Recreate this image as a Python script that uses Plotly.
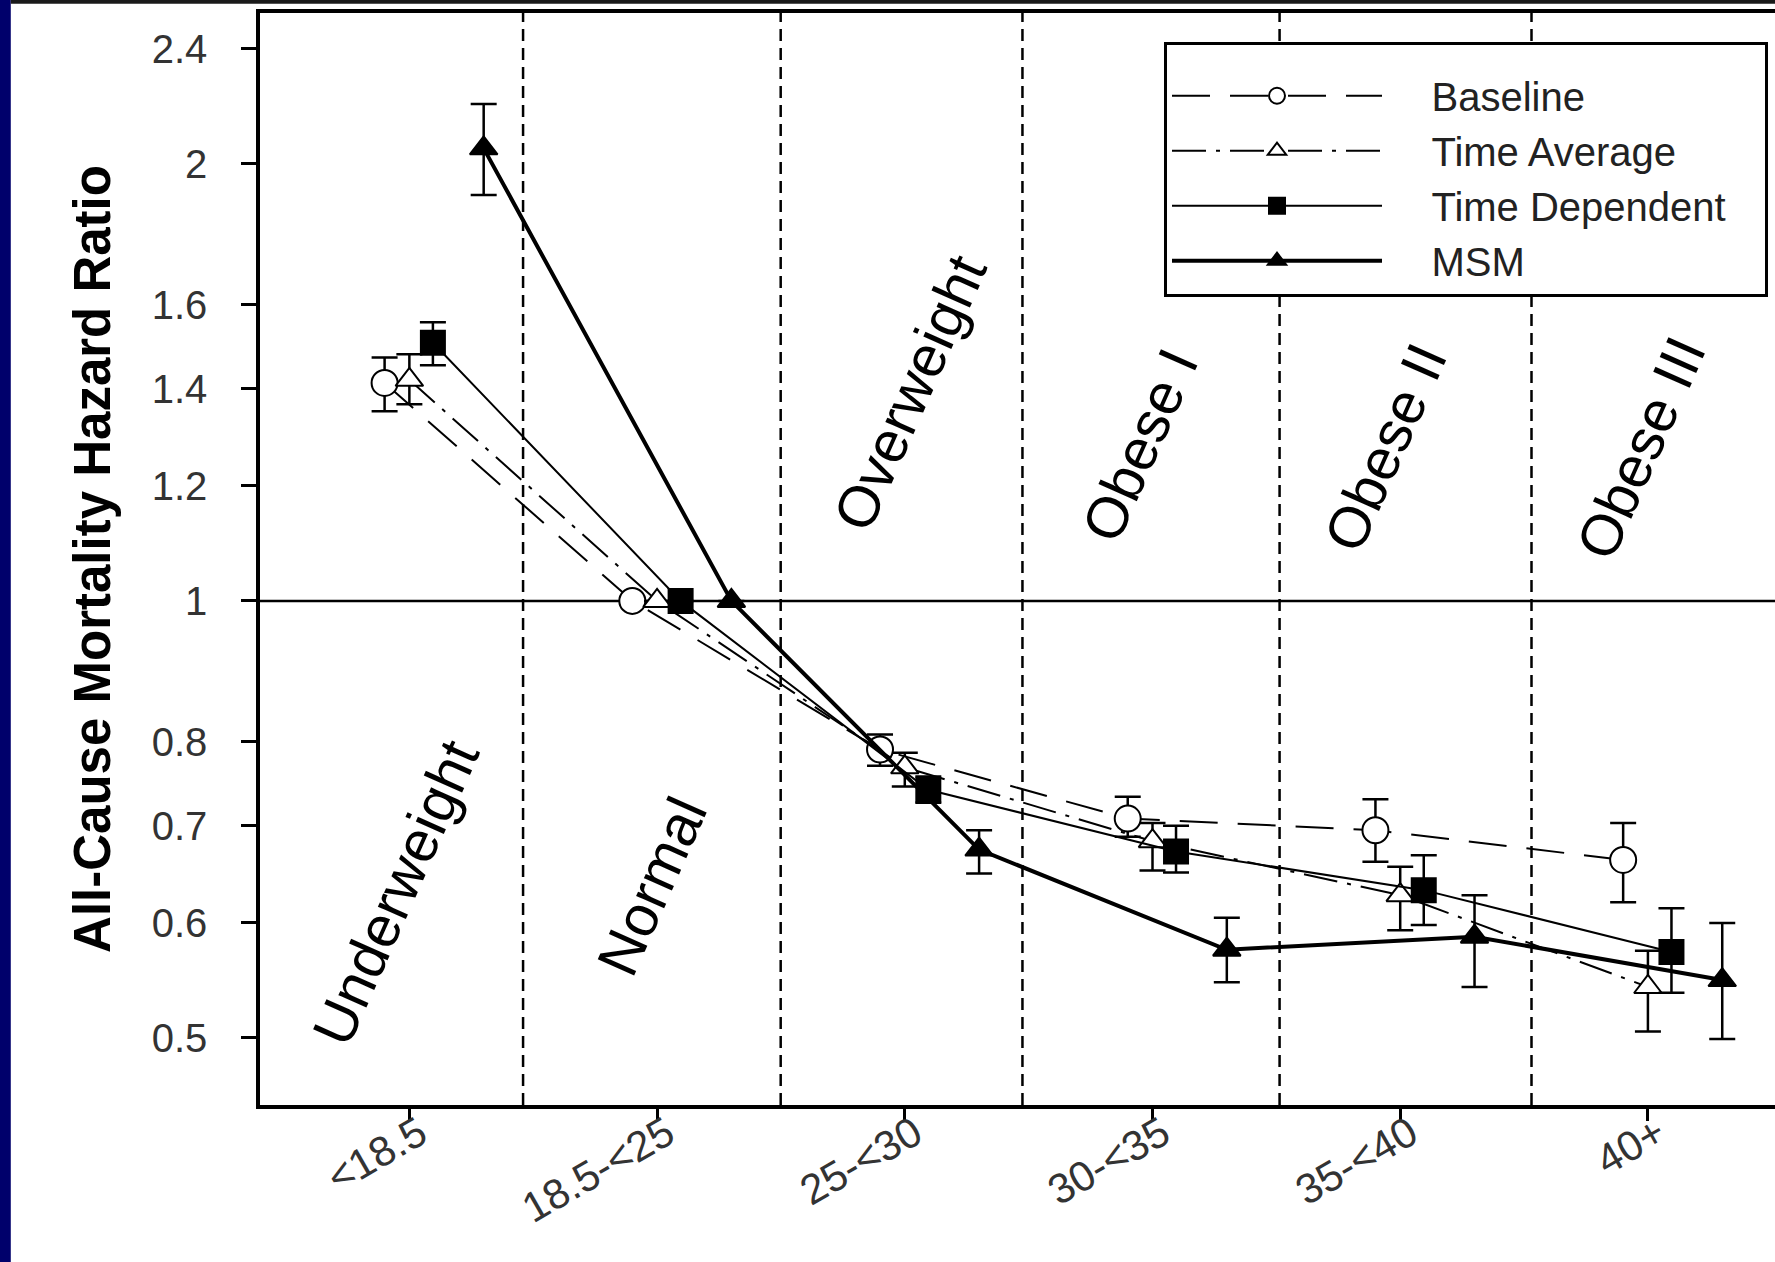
import math
import plotly.graph_objects as go

# ---------------- data ----------------
categories = ["<18.5", "18.5-<25", "25-<30", "30-<35", "35-<40", "40+"]

baseline_hr = [1.413, 1.00, 0.790, 0.708, 0.695, 0.663]
baseline_lo = [1.351, None, 0.770, 0.688, 0.661, 0.620]
baseline_hi = [1.471, None, 0.809, 0.733, 0.730, 0.703]

timeavg_hr = [1.420, 1.00, 0.768, 0.683, 0.627, 0.542]
timeavg_lo = [1.366, None, 0.745, 0.652, 0.593, 0.505]
timeavg_hi = [1.479, None, 0.786, 0.703, 0.656, 0.574]

timedep_hr = [1.506, 1.00, 0.741, 0.672, 0.632, 0.573]
timedep_lo = [1.453, None, 0.726, 0.650, 0.598, 0.537]
timedep_hi = [1.556, None, 0.757, 0.700, 0.668, 0.614]

msm_hr = [2.050, 1.00, 0.674, 0.575, 0.587, 0.548]
msm_lo = [1.904, None, 0.649, 0.546, 0.542, 0.499]
msm_hi = [2.199, None, 0.695, 0.605, 0.627, 0.600]

y_ticks = [0.5, 0.6, 0.7, 0.8, 1, 1.2, 1.4, 1.6, 2, 2.4]
y_tick_text = ["0.5", "0.6", "0.7", "0.8", "1", "1.2", "1.4", "1.6", "2", "2.4"]

region_labels = ["Underweight", "Normal", "Overweight", "Obese I", "Obese II", "Obese III"]

# ---------------- layout / style ----------------
region_x = [-0.058, 0.976, 2.017, 2.949, 3.939, 4.971]
region_y = [0.630, 0.636, 1.39, 1.281, 1.275, 1.275]
boundaries = [0.459, 1.499, 2.475, 3.513, 4.530]

FONT = "Liberation Sans, Arial, Helvetica, sans-serif"
NB = "\u00a0"

series = [
    dict(name="Baseline", hr=baseline_hr, lo=baseline_lo, hi=baseline_hi, offset=-0.10,
         symbol="circle", fill="white", dash="38px,20px", width=2, size=26),
    dict(name="Time Average", hr=timeavg_hr, lo=timeavg_lo, hi=timeavg_hi, offset=0.0,
         symbol="triangle-up", fill="white", dash="34px,10px,4px,10px", width=2, size=24),
    dict(name="Time Dependent", hr=timedep_hr, lo=timedep_lo, hi=timedep_hi, offset=0.095,
         symbol="square", fill="black", dash="solid", width=2, size=24),
    dict(name="MSM", hr=msm_hr, lo=msm_lo, hi=msm_hi, offset=0.30,
         symbol="triangle-up", fill="black", dash="solid", width=4, size=24),
]
longest = max(len(s["name"]) for s in series)

fig = go.Figure()

for s in series:
    xs = [i + s["offset"] for i in range(len(categories))]
    up = [(h - v) if h is not None else None for v, h in zip(s["hr"], s["hi"])]
    dn = [(v - l) if l is not None else None for v, l in zip(s["hr"], s["lo"])]
    label = NB * 4 + s["name"] + (NB * 3 if len(s["name"]) == longest else "")
    fig.add_trace(go.Scatter(
        x=xs, y=s["hr"], name=label, mode="lines+markers",
        line=dict(color="black", width=s["width"], dash=s["dash"]),
        marker=dict(symbol=s["symbol"], size=s["size"], color=s["fill"],
                    line=dict(color="black", width=2)),
        error_y=dict(type="data", symmetric=False, array=up, arrayminus=dn,
                     color="black", thickness=2.5, width=13),
    ))

shapes = []
for b in boundaries:
    shapes.append(dict(type="line", xref="x", yref="paper", x0=b, x1=b, y0=0, y1=1,
                       line=dict(color="black", width=2.5, dash="12px,7px"), layer="below"))
shapes.append(dict(type="line", xref="paper", yref="y", x0=0, x1=1, y0=1, y1=1,
                   line=dict(color="black", width=2.5), layer="below"))
# slide decorations: navy strip on the left, dark rule along the top
shapes.append(dict(type="rect", xref="paper", yref="paper", x0=-0.2, x1=-0.1645,
                   y0=-0.2, y1=1.05, fillcolor="#00006b", line=dict(width=0)))
shapes.append(dict(type="rect", xref="paper", yref="paper", x0=-0.1645, x1=1.05,
                   y0=1.0084, y1=1.05, fillcolor="#1a1a1a", line=dict(width=0)))

annotations = []
for txt, ax_, ay_ in zip(region_labels, region_x, region_y):
    annotations.append(dict(x=ax_, y=math.log10(ay_), xref="x", yref="y", text=txt,
                            textangle=-66, showarrow=False,
                            font=dict(family=FONT, size=58, color="black"),
                            xanchor="center", yanchor="middle"))

fig.update_layout(
    width=1775, height=1262,
    margin=dict(l=260, r=0, t=13, b=157, autoexpand=False),
    paper_bgcolor="white", plot_bgcolor="white",
    font=dict(family=FONT, color="#222"),
    showlegend=True,
    legend=dict(x=0.5967, y=0.9734, xanchor="left", yanchor="top",
                bgcolor="white", bordercolor="black", borderwidth=3,
                font=dict(family=FONT, size=40, color="#222"),
                title=dict(text=NB, font=dict(size=14)),
                itemwidth=210, tracegroupgap=0),
    shapes=shapes,
    annotations=annotations,
    xaxis=dict(range=[-0.603, 5.513], tickvals=list(range(len(categories))),
               ticktext=categories, tickangle=-30, ticks="outside", ticklen=12,
               tickwidth=3, tickcolor="black", showline=True, linecolor="black",
               linewidth=3.5, mirror=True, showgrid=False, zeroline=False,
               ticklabelstandoff=-28, ticklabelshift=10, automargin=False,
               tickfont=dict(family=FONT, size=42, color="#333")),
    yaxis=dict(type="log", range=[-0.3473, 0.4050], tickvals=y_ticks, ticktext=y_tick_text,
               ticks="outside", ticklen=15, tickwidth=3, tickcolor="black",
               showline=True, linecolor="black", linewidth=3.5, mirror=False,
               showgrid=False, zeroline=False, ticklabelstandoff=26, automargin=False,
               tickfont=dict(family=FONT, size=40, color="#333"),
               title=dict(text="All-Cause Mortality Hazard Ratio", standoff=26,
                          font=dict(family=FONT, size=51, color="black", weight="bold"))),
)

fig.write_html("out.html")
